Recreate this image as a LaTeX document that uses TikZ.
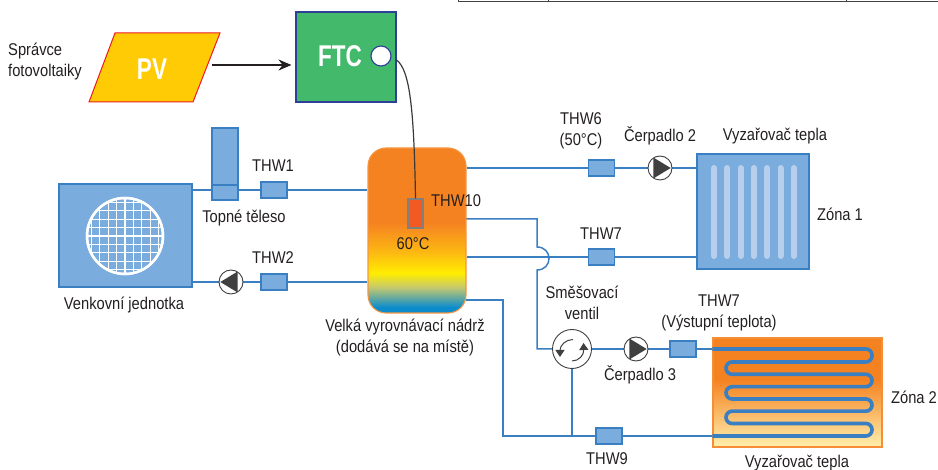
\documentclass[tikz,border=0pt]{standalone}
\usepackage{fontspec}
\usetikzlibrary{arrows.meta,backgrounds,calc}
\setmainfont[FakeStretch=0.865]{Liberation Sans}
\newfontfamily\bigf[FakeStretch=0.75,UprightFont=* Bold]{Liberation Sans}
\definecolor{txt}{HTML}{231F20}
\definecolor{bluefill}{HTML}{7AADDE}
\definecolor{blueline}{HTML}{3A7FC2}
\definecolor{stripe}{HTML}{B7CFEC}
\definecolor{orng}{HTML}{F58220}
\definecolor{pumpdark}{HTML}{404041}
\definecolor{pvfill}{HTML}{FFCB05}
\definecolor{pvedge}{HTML}{ED1C24}
\definecolor{ftcfill}{HTML}{43B96B}
\definecolor{ftcedge}{HTML}{2E3F98}
\definecolor{sensfill}{HTML}{F15A22}
\pgfdeclareverticalshading{tankshade}{100bp}{
  rgb(0bp)=(0.05,0.55,0.80);
  rgb(26.8bp)=(0.05,0.55,0.80);
  rgb(32.9bp)=(0.78,0.79,0.42);
  rgb(37.1bp)=(1,0.93,0.0);
  rgb(43.2bp)=(0.99,0.73,0.07);
  rgb(52.3bp)=(0.96,0.51,0.13);
  rgb(100bp)=(0.96,0.51,0.13)}
\pgfdeclareverticalshading{zoneshade}{100bp}{
  rgb(0bp)=(1,0.94,0.68);
  rgb(25bp)=(1,0.94,0.68);
  rgb(56bp)=(0.96,0.51,0.13);
  rgb(100bp)=(0.96,0.51,0.13)}
\tikzset{
  lbl/.style={text=txt,font=\fontsize{17}{17}\selectfont,inner sep=0pt,align=center},
  big/.style={text=white,font=\bigf\fontsize{30}{30}\selectfont,inner sep=0pt},
  sensorbox/.style={draw=blueline,fill=bluefill,line width=1.2pt,minimum width=26pt,minimum height=16pt,inner sep=0pt},
  pipe/.style={draw=blueline,line width=1.5pt},
  pump/.style={circle,draw=pumpdark,fill=white,line width=0.9pt,minimum size=24pt,inner sep=0pt},
  bluebox/.style={draw=blueline,fill=bluefill,line width=1.1pt,inner sep=0pt},
  slat/.style={line width=6pt,draw=stripe,line cap=round},
  grid line/.style={draw=white,line width=1.3pt},
  coil/.style={draw=blueline,line width=3.6pt,rounded corners=6.1pt},
}
\newcommand{\pumptri}[2]{\fill[pumpdark] ($(#1)+(#2*-6.7,-10.5)$) -- ($(#1)+(#2*10.7,0)$) -- ($(#1)+(#2*-6.7,10.5)$) -- cycle;}
\begin{document}
\begin{tikzpicture}[x=1pt,y=-1pt]
\useasboundingbox (0,0) rectangle (938,470);
% table fragment
\draw[draw=pumpdark,line width=1pt] (458.5,0) -- (458.5,1.7) -- (938,1.7);
\draw[draw=pumpdark,line width=1pt] (548,0) -- (548,1.7) (846,0) -- (846,1.7);
% PV and FTC
\path[draw=pvedge,fill=pvfill,line width=1pt] (115,33) -- (220,33) -- (193,102) -- (89,102) -- cycle;
\coordinate (pvout) at (212,65);
\node[big] (pv) at (152,69) {PV};
\node[draw=ftcedge,fill=ftcfill,minimum width=100pt,minimum height=90pt,inner sep=0pt,line width=1.1pt] (ftc) at (346,57) {};
\node[big] (ftct) at (340,56) {FTC};
\node[circle,draw=ftcedge,fill=white,line width=1.1pt,minimum size=20pt,inner sep=0pt] (port) at (381,56) {};
\draw[-{Stealth[length=13pt,width=11pt]},draw=txt,line width=1.1pt,shorten >=4pt] (pvout) -- (ftc.west |- pvout);
\node[lbl,align=left,anchor=west] (pvl) at (8,62) {Správce\\[4pt]fotovoltaiky};
% outdoor unit
\node[bluebox,minimum width=133pt,minimum height=103pt] (unit) at (125.5,235.5) {};
\node[circle,draw=white,line width=2.4pt,fill=bluefill,minimum size=76pt,inner sep=0pt] (fan) at (125,236) {};
\begin{scope}
\clip (125,236) circle[radius=38pt];
\foreach \k in {-4,...,4} {
  \draw[grid line] (125+\k*8.4,196) -- (125+\k*8.4,276);
  \draw[grid line] (85,236+\k*8.4) -- (165,236+\k*8.4);
}
\end{scope}
\node[circle,draw=white,line width=2.4pt,minimum size=76pt,inner sep=0pt] (fanring) at (125,236) {};
% heater
\node[bluebox,minimum width=26pt,minimum height=72pt] (heater) at (225,164) {};
\node[bluebox,minimum width=26pt,minimum height=15pt] (heaterb) at (225,192.5) {};
% sensors
\node[sensorbox] (thw1) at (274,190) {};
\node[sensorbox] (thw2) at (274,282) {};
\node[sensorbox] (thw6) at (601.5,168) {};
\node[sensorbox] (thw7) at (601.5,257) {};
\node[sensorbox] (thw7b) at (683,349) {};
\node[sensorbox] (thw9) at (609,436) {};
% pumps
\node[pump] (p1) at (231,282) {};
\pumptri{p1}{-1}
\node[pump] (p2) at (660,168) {};
\pumptri{p2}{1}
\node[pump] (p3) at (636,349) {};
\pumptri{p3}{1}
% tank
\node[draw=orng!85!white,shading=tankshade,rounded corners=18pt,line width=1.1pt,minimum width=98pt,minimum height=165pt,inner sep=0pt] (tank) at (417,230.5) {};
\node[draw=gray,fill=sensfill,line width=1.3pt,minimum width=15pt,minimum height=29pt,inner sep=0pt] (sens) at (415.5,213.5) {};
% radiator
\node[bluebox,minimum width=112pt,minimum height=115pt] (rad) at (753,211.5) {};
\foreach \x in {714,727.3,740.6,753.9,767.2,780.5,793.8} \draw[slat] (\x,168) -- (\x,256);
% zone 2
\node[draw=orng!90!white,shading=zoneshade,line width=1.1pt,minimum width=169pt,minimum height=109pt,inner sep=0pt] (zone) at (797.5,392.5) {};
\draw[coil] (zone.west |- thw7b) -- (872,349) -- (872,362) -- (726,362) -- (726,374.3) -- (872,374.3) -- (872,386.7) -- (726,386.7) -- (726,399) -- (872,399) -- (872,411.2) -- (726,411.2) -- (726,423.5) -- (872,423.5) -- (872,436) -- (zone.west |- thw9);
% valve
\node[circle,draw=pumpdark,fill=white,line width=0.9pt,minimum size=39pt,inner sep=0pt] (valve) at (572,349) {};
\draw[pumpdark,line width=1pt,-{Triangle[length=7pt,width=9pt]}] (573,339.5) .. controls (566,339.5) and (560,345) .. (560,357);
\draw[pumpdark,line width=1pt,-{Triangle[length=7pt,width=9pt]}] (572,361) .. controls (579,361) and (584,355) .. (583.5,343);
% pipes
\begin{pgfonlayer}{background}
\path[pipe] (unit.east |- thw1) -- (thw1) -- (tank.west |- thw1);
\path[pipe] (unit.east |- thw2) -- (p1) -- (thw2) -- (tank.west |- thw2);
\path[pipe] (tank.east |- thw6) -- (thw6) -- (p2) -- (rad.west |- p2);
\path[pipe] (tank.east |- thw7) -- (thw7) -- (rad.west |- thw7);
\coordinate (humpa) at (537,247);
\coordinate (humpb) at (537,270);
\path[pipe] (466,219) -- (537,219) -- (humpa) .. controls (553,247) and (553,270) .. (humpb) -- (537,349) -- (valve);
\path[pipe] (valve) -- (p3) -- (thw7b) -- (zone.west |- thw7b);
\path[pipe] (466,300) -- (503,300) -- (503,436) -- (thw9) -- (zone.west |- thw9);
\path[pipe] (valve.south) -- (valve.south |- thw9);
\end{pgfonlayer}
\draw[draw=pumpdark!90!black,line width=1.2pt] (port.east) ++(5,4) .. controls (410,70) and (414,110) .. (sens.north);
% labels
\node[lbl] (l1) at (273,166) {THW1};
\node[lbl] (l2) at (244,218) {Topné těleso};
\node[lbl] (l3) at (273,258) {THW2};
\node[lbl] (l4) at (124,305) {Venkovní jednotka};
\node[lbl,anchor=west] (l5) at (431,201) {THW10};
\node[lbl] (l6) at (413,244) {60°C};
\node[lbl] (l7) at (405,338) {Velká vyrovnávací nádrž\\[4pt](dodává se na místě)};
\node[lbl] (l8) at (581,130.5) {THW6\\[4pt](50°C)};
\node[lbl] (l9) at (660,136) {Čerpadlo 2};
\node[lbl] (l10) at (775,136) {Vyzařovač tepla};
\node[lbl] (l11) at (840,214) {Zóna 1};
\node[lbl] (l12) at (601,234) {THW7};
\node[lbl] (l13) at (582,302.5) {Směšovací\\[4pt]ventil};
\node[lbl] (l14) at (719,313) {THW7\\[4pt](Výstupní teplota)};
\node[lbl] (l15) at (640,375) {Čerpadlo 3};
\node[lbl] (l16) at (914,397) {Zóna 2};
\node[lbl] (l17) at (607,459) {THW9};
\node[lbl] (l18) at (797,463) {Vyzařovač tepla};
\end{tikzpicture}
\end{document}
